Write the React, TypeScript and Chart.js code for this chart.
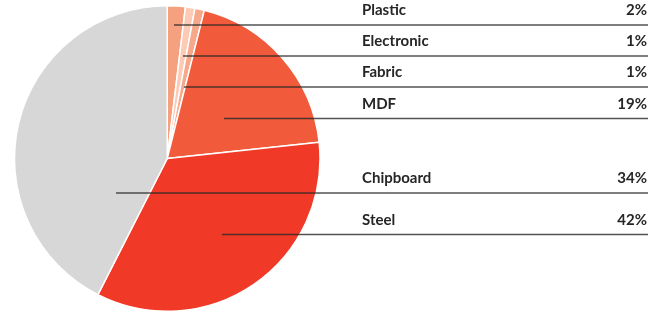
import React, { useEffect, useRef } from "react";
import { Chart, registerables } from "chart.js";

Chart.register(...registerables);

const categories = ["Plastic", "Electronic", "Fabric", "MDF", "Chipboard", "Steel"];
const values = [1.9, 1.0, 1.0, 19.4, 34.2, 42.5];
const valueLabels = ["2%", "1%", "1%", "19%", "34%", "42%"];
const colors = ["#f5a07f", "#fccab5", "#f8a88a", "#f15a3b", "#f03a27", "#d7d7d7"];

// layout of the label rows (annotation, not data)
const rowLineY = [25, 56, 87, 118.5, 193, 234.5];
const leaderStartX = [174, 183, 184, 224, 116, 222];
const labelX = 362;
const rightX = 647;

const labelPlugin = {
  id: "rowLabels",
  afterDraw(chart: any) {
    const ctx = chart.ctx;
    ctx.save();
    categories.forEach((name, i) => {
      const y = rowLineY[i];
      ctx.beginPath();
      ctx.strokeStyle = "rgba(40,40,40,0.8)";
      ctx.lineWidth = 1.4;
      ctx.moveTo(leaderStartX[i], y);
      ctx.lineTo(rightX + 1, y);
      ctx.stroke();
      ctx.fillStyle = "#262626";
      ctx.font = "bold 15px Lato";
      ctx.textBaseline = "alphabetic";
      ctx.textAlign = "left";
      ctx.fillText(name, labelX, y - 10);
      ctx.textAlign = "right";
      ctx.fillText(valueLabels[i], rightX, y - 10);
    });
    ctx.restore();
  },
};

export default function App() {
  const ref = useRef<HTMLCanvasElement>(null);
  useEffect(() => {
    if (!ref.current) return;
    const chart = new Chart(ref.current, {
      type: "pie",
      data: {
        labels: categories,
        datasets: [
          {
            data: values,
            backgroundColor: colors,
            borderColor: "#ffffff",
            borderWidth: 1.5,
          },
        ],
      },
      options: {
        responsive: false,
        animation: false,
        layout: { padding: { left: 13.5, right: 341, top: 5, bottom: 1 } },
        plugins: { legend: { display: false }, tooltip: { enabled: false } },
      },
      plugins: [labelPlugin],
    });
    return () => chart.destroy();
  }, []);
  return (
    <div style={{ position: "fixed", left: 0, top: 0, width: 662, height: 313, background: "#fff" }}>
      <canvas ref={ref} width={662} height={313} />
    </div>
  );
}
